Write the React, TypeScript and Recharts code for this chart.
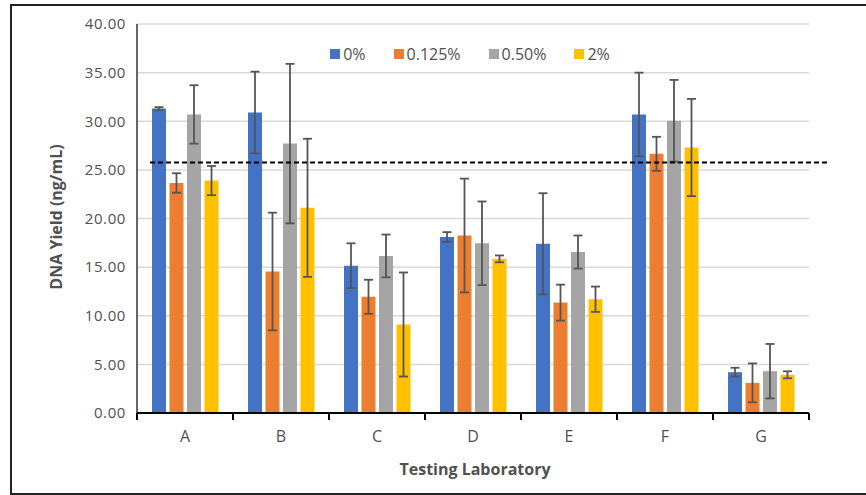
import React from 'react';
import { BarChart, Bar, XAxis, YAxis, CartesianGrid, ErrorBar, ReferenceLine, Legend } from 'recharts';

const categories = ['A', 'B', 'C', 'D', 'E', 'F', 'G'];
const seriesNames = ['0%', '0.125%', '0.50%', '2%'];
const seriesColors = ['#4472C4', '#ED7D31', '#A5A5A5', '#FFC000'];

const yield0 = [31.3, 30.9, 15.15, 18.1, 17.4, 30.7, 4.2];
const err0 = [0.15, 4.2, 2.3, 0.5, 5.2, 4.3, 0.45];
const yield125 = [23.65, 14.55, 11.95, 18.25, 11.35, 26.65, 3.1];
const err125 = [1.0, 6.05, 1.75, 5.85, 1.85, 1.75, 2.0];
const yield50 = [30.7, 27.7, 16.15, 17.45, 16.55, 30.05, 4.3];
const err50 = [3.0, 8.2, 2.2, 4.3, 1.7, 4.2, 2.8];
const yield2 = [23.9, 21.1, 9.1, 15.85, 11.7, 27.3, 3.93];
const err2 = [1.5, 7.1, 5.35, 0.35, 1.3, 5.0, 0.36];

const yTicks = [0, 5, 10, 15, 20, 25, 30, 35, 40];
const threshold = 25.75;

const data = categories.map((lab, i) => ({
  lab,
  s0: yield0[i], e0: err0[i],
  s1: yield125[i], e1: err125[i],
  s2: yield50[i], e2: err50[i],
  s3: yield2[i], e3: err2[i],
}));

const FONT = "'Open Sans', sans-serif";
const TXT = '#505050';

const CatTick = (props: any) => {
  const { x, y, payload, index, visibleTicksCount } = props;
  const off = payload && payload.offset ? payload.offset : 0;
  const last = index === (visibleTicksCount ?? categories.length) - 1;
  return (
    <g>
      <line x1={x - off} x2={x - off} y1={y} y2={y + 7} stroke="#000" strokeWidth={2} />
      {last && <line x1={x + off} x2={x + off} y1={y} y2={y + 7} stroke="#000" strokeWidth={2} />}
      <text x={x} y={y + 29} textAnchor="middle" fill={TXT} fontSize={16} fontWeight={500} fontFamily={FONT}>
        {payload.value}
      </text>
    </g>
  );
};

const LegendContent = (props: any) => {
  const payload = props.payload || [];
  return (
    <div style={{ display: 'flex', justifyContent: 'center', gap: 28, fontFamily: FONT, fontSize: 16, fontWeight: 500, color: TXT }}>
      {payload.map((p: any) => (
        <div key={p.value} style={{ display: 'flex', alignItems: 'center' }}>
          <span style={{ display: 'inline-block', width: 10, height: 10, background: p.color, marginRight: 3 }} />
          <span style={{ lineHeight: '18px' }}>{p.value}</span>
        </div>
      ))}
    </div>
  );
};

const DashShape = (p: any) => (
  <line x1={p.x1 + 13} y1={p.y1} x2={p.x2 + 20} y2={p.y2} stroke="#000" strokeWidth={2} strokeDasharray="5 3" />
);

export default function App() {
  const keys = ['s0', 's1', 's2', 's3'];
  const errs = ['e0', 'e1', 'e2', 'e3'];
  return (
    <div style={{ position: 'absolute', left: 0, top: 0, width: 866, height: 495, background: '#fff' }}>
      <div style={{ position: 'absolute', left: 10, top: 4, width: 870, height: 487, border: '2px solid #222', boxSizing: 'content-box' }} />
      <div style={{ position: 'absolute', left: 0, top: 0 }}>
        <BarChart width={866} height={495} data={data} margin={{ top: 24, right: 57, bottom: 0, left: 0 }} barSize={14} barGap={3.5}>
          <CartesianGrid horizontal vertical={false} stroke="#D9D9D9" strokeWidth={1.5} />
          <YAxis
            width={137}
            domain={[0, 40]}
            ticks={yTicks}
            interval={0}
            tickFormatter={(v: number) => v.toFixed(2)}
            tick={{ fill: TXT, fontSize: 15, fontFamily: FONT, letterSpacing: 0.6 }}
            tickSize={0}
            tickMargin={11}
            axisLine={{ stroke: '#000', strokeWidth: 1.2 }}
            tickLine={false}
            label={{
              content: () => (
                <text x={62} y={217} transform="rotate(-90, 62, 217)" textAnchor="middle" fill={TXT} fontSize={16} fontWeight="bold" fontFamily={FONT}>
                  DNA Yield (ng/mL)
                </text>
              ),
            }}
          />
          <XAxis
            dataKey="lab"
            height={82}
            interval={0}
            tickSize={0}
            tickMargin={0}
            tick={<CatTick />}
            axisLine={{ stroke: '#000', strokeWidth: 2 }}
            tickLine={false}
            label={{
              content: () => (
                <text x={475} y={475} textAnchor="middle" fill={TXT} fontSize={16} fontWeight="bold" fontFamily={FONT}>
                  Testing Laboratory
                </text>
              ),
            }}
          />
          <Legend
            verticalAlign="middle"
            align="center"
            layout="horizontal"
            wrapperStyle={{ top: 45, left: 134, width: 672 }}
            content={<LegendContent />}
          />
          {keys.map((k, i) => (
            <Bar key={k} dataKey={k} name={seriesNames[i]} fill={seriesColors[i]} isAnimationActive={false}>
              <ErrorBar dataKey={errs[i]} width={4.5} stroke="#555555" strokeWidth={1.8} direction="y" />
            </Bar>
          ))}
          <ReferenceLine y={threshold} shape={<DashShape />} />
        </BarChart>
      </div>
    </div>
  );
}
